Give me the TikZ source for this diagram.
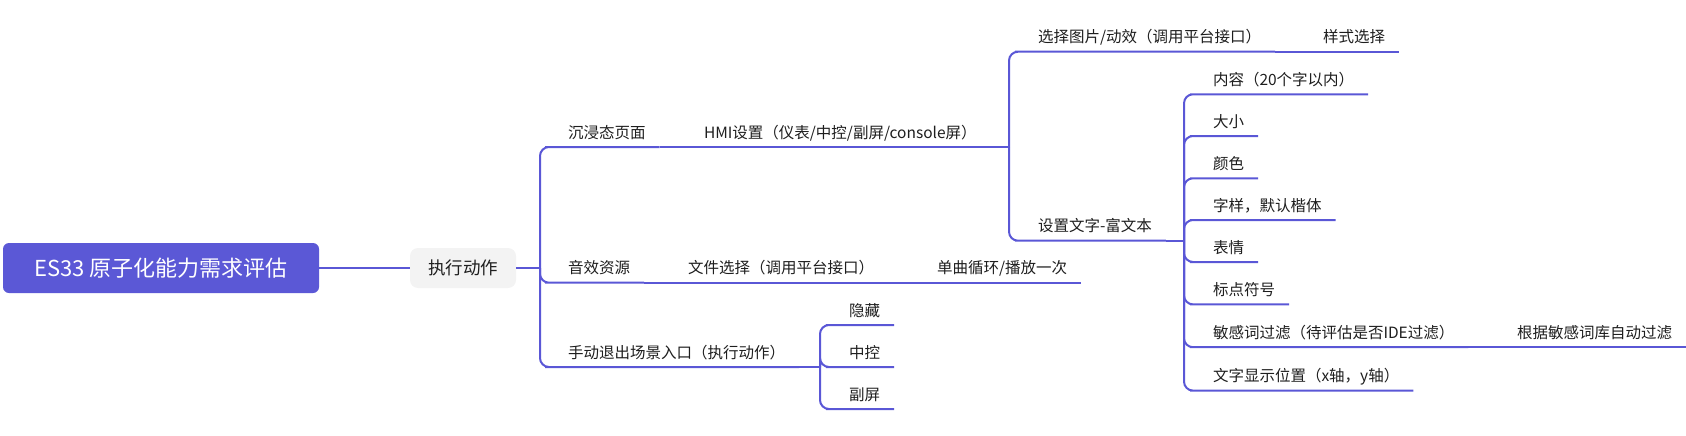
\documentclass[tikz,border=0pt]{standalone}
\usepackage{fontspec}
\setmainfont{Noto Sans CJK SC}
\usetikzlibrary{positioning,calc}
\definecolor{xlink}{RGB}{90,87,214}
\definecolor{xroot}{RGB}{91,88,214}
\definecolor{xgray}{RGB}{243,243,243}
\definecolor{xtext}{RGB}{30,30,30}
\tikzset{
  topic/.style={anchor=south west, inner xsep=14pt, inner ysep=6pt, text height=13pt,
    text depth=3pt, outer sep=0pt, text=xtext, font=\fontsize{15.5}{18}\selectfont},
  link/.style={draw=xlink, line width=2pt, rounded corners=9pt},
  rootbox/.style={fill=xroot, rounded corners=6pt, minimum width=316pt, minimum height=50pt,
    text=white, inner sep=0pt, font=\fontsize{22}{24}\selectfont},
  actbox/.style={fill=xgray, rounded corners=8pt, minimum width=106pt, minimum height=40pt,
    text=xtext, inner sep=0pt, font=\fontsize{17.5}{20}\selectfont},
}

\begin{document}
\begin{tikzpicture}[x=1pt,y=-1pt]
        \useasboundingbox (0,0) rectangle (1686,436);
        % pusat
        \node[rootbox] (root) at (161,268) {ES33 原子化能力需求评估};
        \node[actbox] (act) at (463,268) {执行动作};
        \coordinate (f0) at (540,268);
        % cabang utama
        \node[topic] (immersive) at (554,147) {沉浸态页面};
        \node[topic] (hmi) at (690,147) {HMI设置（仪表/中控/副屏/console屏）};
        \node[topic] (sound) at (554,282.7) {音效资源};
        \node[topic] (file) at (674,282.7) {文件选择（调用平台接口）};
        \node[topic] (loop) at (923,282.7) {单曲循环/播放一次};
        \node[topic] (exit) at (554,367) {手动退出场景入口（执行动作）};
        % HMI
        \coordinate (f1) at (1009,147);
        \node[topic] (pic) at (1024,51.7) {选择图片/动效（调用平台接口）};
        \node[topic] (style) at (1309,51.7) {样式选择};
        \node[topic] (richtext) at (1024,240.7) {设置文字-富文本};
        % teks kaya
        \coordinate (f2) at (1184,240.7);
        \node[topic] (content) at (1199,94.3) {内容（20个字以内）};
        \node[topic] (size) at (1199,136) {大小};
        \node[topic] (colour) at (1199,178.3) {颜色};
        \node[topic] (face) at (1199,220) {字样，默认楷体};
        \node[topic] (emoji) at (1199,262) {表情};
        \node[topic] (punct) at (1199,304.4) {标点符号};
        \node[topic] (filter) at (1199,347.2) {敏感词过滤（待评估是否IDE过滤）};
        \node[topic] (auto) at (1503,347.2) {根据敏感词库自动过滤};
        \node[topic] (position) at (1199,390.6) {文字显示位置（x轴，y轴）};
        % keluar
        \coordinate (f3) at (820,367);
        \node[topic] (hide) at (835,325) {隐藏};
        \node[topic] (centre) at (835,367) {中控};
        \node[topic] (sub) at (835,409) {副屏};
        % garis
        \draw[link] (root.east) -- (act.west);
        \draw[link] (act.east) -- (f0);
        \foreach \n in {immersive,sound,exit}
          \draw[link] (f0) |- (\n.south west) -- (\n.south east);
        \draw[link] (immersive.south east) -- (hmi.south west) -- (hmi.south east) -- (f1);
        \draw[link] (sound.south east) -- (file.south west) -- (file.south east)
          -- (loop.south west) -- (loop.south east);
        \foreach \n in {pic,richtext}
          \draw[link] (f1) |- (\n.south west) -- (\n.south east);
        \draw[link] (pic.south east) -- (style.south west) -- (style.south east);
        \draw[link] (richtext.south east) -- (f2);
        \foreach \n in {content,size,colour,face,emoji,punct,filter,position}
          \draw[link] (f2) |- (\n.south west) -- (\n.south east);
        \draw[link] (filter.south east) -- (auto.south west) -- (auto.south east);
        \draw[link] (exit.south east) -- (f3);
        \foreach \n in {hide,centre,sub}
          \draw[link] (f3) |- (\n.south west) -- (\n.south east);
      \end{tikzpicture}
\end{document}
